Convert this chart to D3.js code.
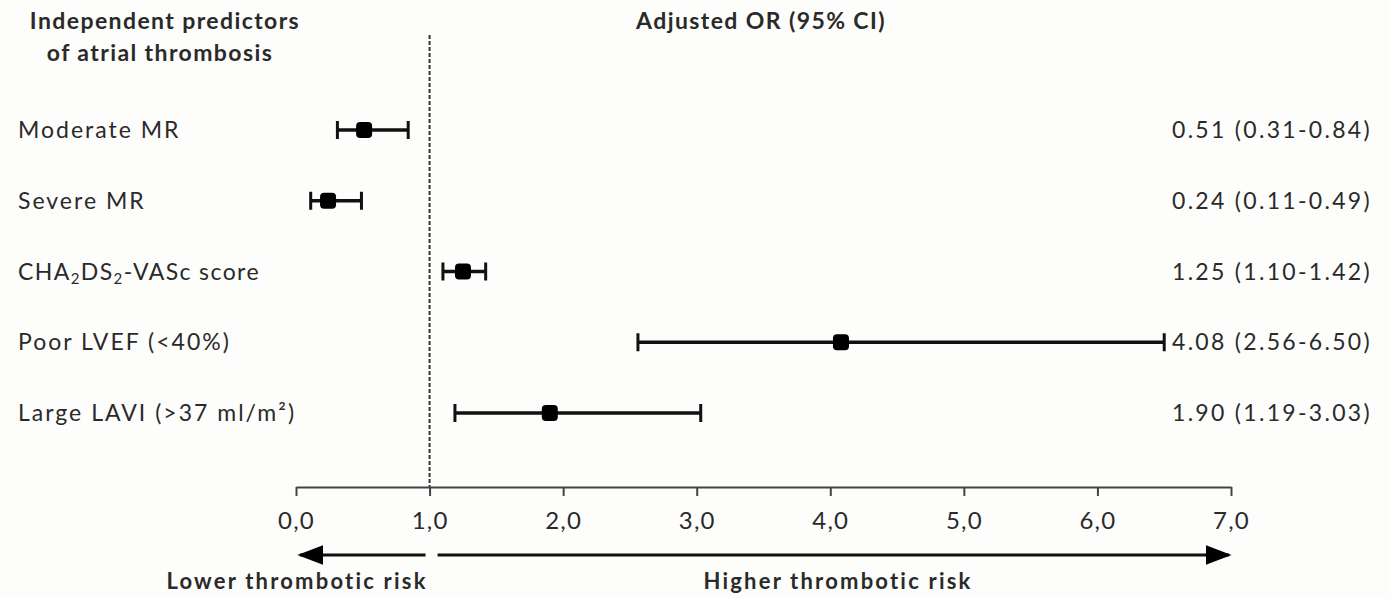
<!DOCTYPE html>
<html lang="en">
<head>
<meta charset="utf-8">
<title>Independent predictors of atrial thrombosis</title>
<script src="https://d3js.org/d3.v7.min.js"></script>
<style>
  html, body { margin: 0; padding: 0; background: #fdfdfb; }
  svg text { font-family: Lato, "Open Sans", sans-serif; fill: #2a2a2a; }
</style>
</head>
<body>
<svg id="chart" width="1390" height="598"></svg>
<script>
// data
const predictors = ["Moderate MR", "Severe MR", "CHA2DS2-VASc score", "Poor LVEF (<40%)", "Large LAVI (>37 ml/m²)"];
const oddsRatio = [0.51, 0.24, 1.25, 4.08, 1.90];
const ciLow = [0.31, 0.11, 1.10, 2.56, 1.19];
const ciHigh = [0.84, 0.49, 1.42, 6.50, 3.03];
const orLabels = ["0.51 (0.31-0.84)", "0.24 (0.11-0.49)", "1.25 (1.10-1.42)", "4.08 (2.56-6.50)", "1.90 (1.19-3.03)"];
const xTicks = [0, 1, 2, 3, 4, 5, 6, 7];

const svg = d3.select("#chart");

const x = d3.scaleLinear().domain([0, 7]).range([296, 1231]);
const y = d3.scalePoint().domain(d3.range(predictors.length)).range([130, 413]);
const axisY = 487;

// headers
const header = (tx, ty, s) => svg.append("text").attr("x", tx).attr("y", ty)
  .attr("text-anchor", "middle").attr("font-weight", "bold")
  .attr("font-size", 23).attr("letter-spacing", 1.4).text(s);
header(165, 29, "Independent predictors");
header(160, 61, "of atrial thrombosis");
header(761, 29, "Adjusted OR (95% CI)");

// reference line at OR = 1
svg.append("line")
  .attr("x1", x(1)).attr("x2", x(1))
  .attr("y1", 35).attr("y2", axisY)
  .attr("stroke", "#333").attr("stroke-width", 2)
  .attr("stroke-dasharray", "4,2");

// x axis
const fmt = d3.formatLocale({ decimal: ",", thousands: ".", grouping: [3], currency: ["", ""] }).format(".1f");
const xAxis = svg.append("g")
  .attr("transform", `translate(0,${axisY})`)
  .call(d3.axisBottom(x).tickValues(xTicks).tickFormat(fmt).tickSize(9).tickSizeOuter(0).tickPadding(16));
xAxis.select(".domain").attr("stroke", "#444").attr("stroke-width", 2);
xAxis.selectAll(".tick line").attr("stroke", "#444").attr("stroke-width", 2);
xAxis.selectAll(".tick text")
  .attr("font-family", "Lato, 'Open Sans', sans-serif")
  .attr("font-size", 24).attr("letter-spacing", 1.2).attr("fill", "#333");

// row labels
const labels = svg.append("g").selectAll("text")
  .data(predictors)
  .join("text")
  .attr("x", 18)
  .attr("y", (d, i) => y(i))
  .attr("dy", "0.35em")
  .attr("font-size", 23)
  .attr("letter-spacing", 2);
labels.each(function (d) {
  const t = d3.select(this);
  if (d.startsWith("CHA2DS2")) {
    t.attr("letter-spacing", 1.4);
    t.append("tspan").text("CHA");
    t.append("tspan").attr("font-size", 15).attr("dy", 4).text("2");
    t.append("tspan").attr("dy", -4).text("DS");
    t.append("tspan").attr("font-size", 15).attr("dy", 4).text("2");
    t.append("tspan").attr("dy", -4).text("-VASc score");
  } else {
    t.text(d);
  }
});

// OR labels on the right
svg.append("g").selectAll("text")
  .data(orLabels)
  .join("text")
  .attr("x", 1172)
  .attr("y", (d, i) => y(i))
  .attr("dy", "0.35em")
  .attr("font-size", 23)
  .attr("letter-spacing", 2.3)
  .text(d => d);

// confidence intervals
const rows = svg.append("g").selectAll("g")
  .data(predictors.map((p, i) => ({ i, or: oddsRatio[i], lo: ciLow[i], hi: ciHigh[i] })))
  .join("g");

rows.append("line")
  .attr("x1", d => x(d.lo)).attr("x2", d => x(d.hi))
  .attr("y1", d => y(d.i)).attr("y2", d => y(d.i))
  .attr("stroke", "#111").attr("stroke-width", 3.5);
rows.append("line")
  .attr("x1", d => x(d.lo)).attr("x2", d => x(d.lo))
  .attr("y1", d => y(d.i) - 9).attr("y2", d => y(d.i) + 9)
  .attr("stroke", "#111").attr("stroke-width", 3);
rows.append("line")
  .attr("x1", d => x(d.hi)).attr("x2", d => x(d.hi))
  .attr("y1", d => y(d.i) - 9).attr("y2", d => y(d.i) + 9)
  .attr("stroke", "#111").attr("stroke-width", 3);
rows.append("rect")
  .attr("x", d => x(d.or) - 8).attr("y", d => y(d.i) - 8)
  .attr("width", 16).attr("height", 16)
  .attr("rx", 4)
  .attr("fill", "#000");

// risk arrows
const arrowY = 555;
svg.append("defs").append("marker").attr("id", "head")
  .attr("viewBox", "0 0 10 10").attr("refX", 9).attr("refY", 5)
  .attr("markerWidth", 26).attr("markerHeight", 20).attr("markerUnits", "userSpaceOnUse")
  .attr("orient", "auto-start-reverse")
  .attr("preserveAspectRatio", "none")
  .append("path").attr("d", "M0,0 L10,5 L0,10 Z").attr("fill", "#000");

svg.append("line")
  .attr("x1", x(0) + 4).attr("x2", x(1) - 4)
  .attr("y1", arrowY).attr("y2", arrowY)
  .attr("stroke", "#111").attr("stroke-width", 3)
  .attr("marker-start", "url(#head)");
svg.append("line")
  .attr("x1", x(1) + 8).attr("x2", x(7) - 2)
  .attr("y1", arrowY).attr("y2", arrowY)
  .attr("stroke", "#111").attr("stroke-width", 3)
  .attr("marker-end", "url(#head)");

svg.append("text").attr("x", 297).attr("y", 589).attr("text-anchor", "middle")
  .attr("font-weight", "bold").attr("font-size", 22).attr("letter-spacing", 2.2)
  .text("Lower thrombotic risk");
svg.append("text").attr("x", 838).attr("y", 589).attr("text-anchor", "middle")
  .attr("font-weight", "bold").attr("font-size", 22).attr("letter-spacing", 2.2)
  .text("Higher thrombotic risk");
</script>
</body>
</html>
